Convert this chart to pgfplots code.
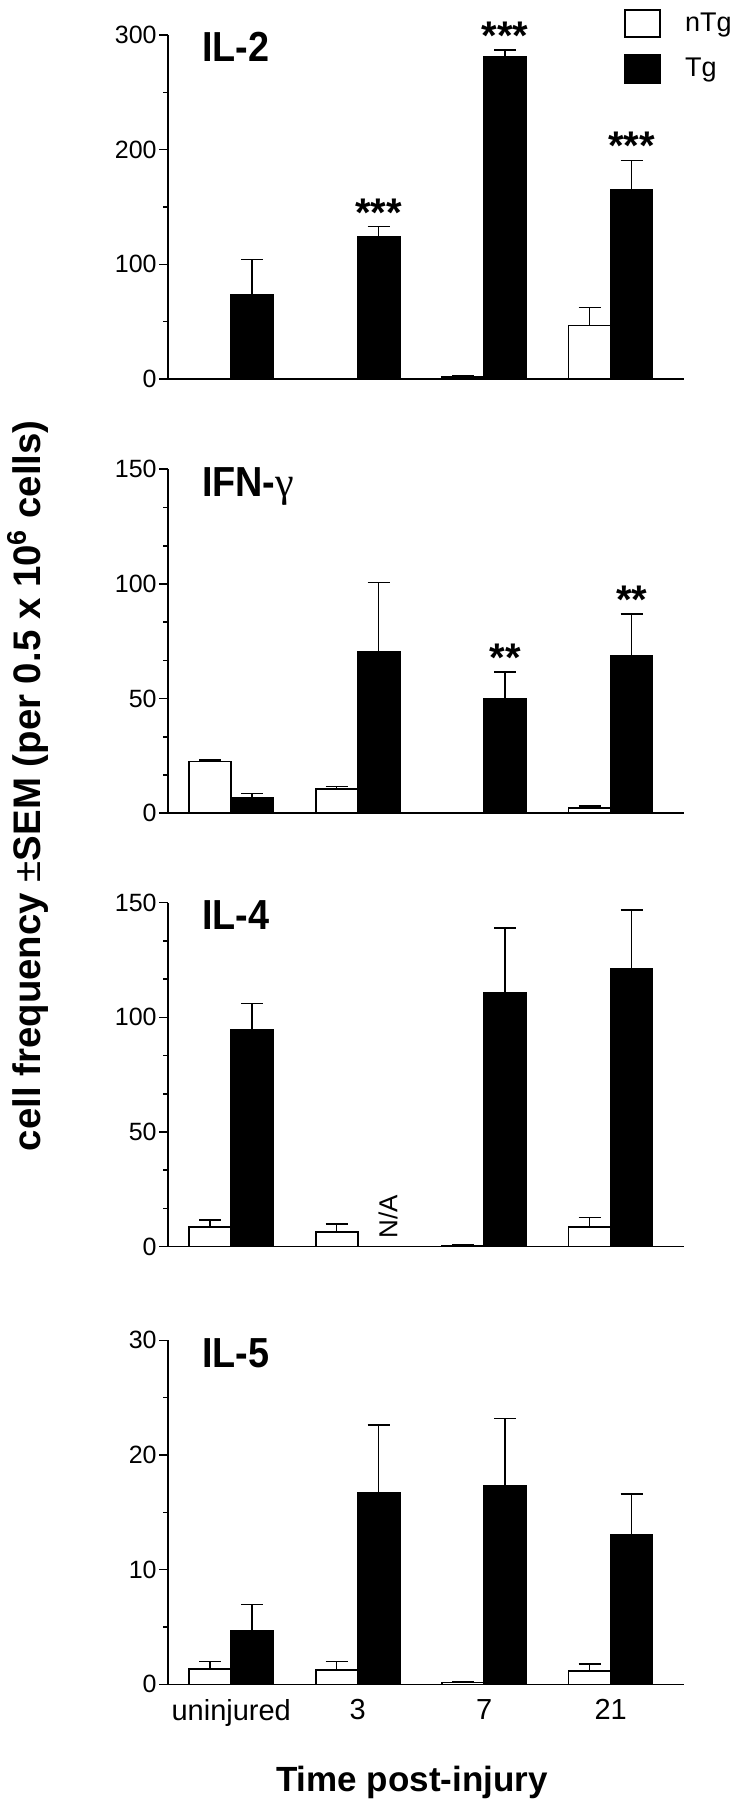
\documentclass[border=0pt]{standalone}
\usepackage{fontspec}
\setmainfont{Liberation Sans}
\newfontfamily\titlefont{Liberation Sans}[FakeStretch=0.9]
\newfontfamily\greekfont{Liberation Serif}
\usepackage{pgfplots}
\pgfplotsset{compat=1.18}

\pgfplotsset{
 panel/.style={
  scale only axis, width=258pt, height=172pt,
  xmin=-0.5, xmax=3.58, ymin=0,
  enlargelimits=false, clip=false,
  axis x line*=bottom, axis y line*=left,
  axis line style={line width=0.8pt, black},
  xtick={0,1,2,3}, xticklabels={},
  major x tick style={draw=none},
  tick align=outside,
  major tick length=4.5pt, minor tick length=2.5pt,
  ytick style={line width=0.8pt, black},
  /pgf/number format/assume math mode=true,
  yticklabel style={font=\fontsize{12.5}{14}\selectfont, inner sep=1pt},
  xticklabel style={font=\fontsize{14.5}{16}\selectfont, yshift=0.5pt},
  anchor=south west,
 },
 ebar/.style={
  /pgfplots/error bars/y dir=plus,
  /pgfplots/error bars/y explicit,
  /pgfplots/error bars/error bar style={line width=0.75pt, black},
  /pgfplots/error bars/error mark options={rotate=90, line width=0.75pt, mark size=5.5pt, black},
 },
 nbar/.style={ybar, bar width=21pt, bar shift=0pt, fill=white, draw=black, line width=0.8pt, ebar},
 tbar/.style={ybar, bar width=21pt, bar shift=0pt, fill=black, draw=black, line width=0.8pt, ebar},
 boxlegend/.style={legend image code/.code={\draw[##1, line width=1.25pt] (0pt,-6.75pt) rectangle (17.5pt,6.75pt);}},
}
\tikzset{
 ptitle/.style={anchor=base west, xshift=13.5pt, yshift=-13.5pt, font={\titlefont\bfseries\fontsize{21}{24}\selectfont}},
 pstars/.style={anchor=base, yshift=0.2pt, font={\bfseries\fontsize{20}{22}\selectfont}},
}

\begin{document}
\begin{tikzpicture}
\useasboundingbox (0,0) rectangle (367pt,900pt);

% IL-2  (nTg at x-0.166, Tg at x+0.166)
\begin{axis}[panel, at={(84pt,710.5pt)}, ymax=300, ytick={0,100,200,300}, minor y tick num=1,
  legend style={draw=none, fill=none, inner sep=0pt, at={(0.882,1.078)}, anchor=north west,
    font=\fontsize{13.5}{15}\selectfont, row sep=8pt,
    /tikz/every odd column/.append style={column sep=12pt}, nodes={inner sep=0pt}},
  legend cell align=left]
\addplot[nbar, boxlegend] coordinates {(1.834,1.5) +- (0,1) (2.834,46.6) +- (0,15.8)};
\addlegendentry{nTg}
\addplot[tbar, boxlegend] coordinates {(0.166,73.5) +- (0,30.5) (1.166,123.9) +- (0,9.1) (2.166,281) +- (0,6) (3.166,165) +- (0,25.7)};
\addlegendentry{Tg}
\node[ptitle] at (rel axis cs:0,1) {IL-2};
\node[pstars] at (axis cs:1.166,133) {***};
\node[pstars] at (axis cs:2.166,287) {***};
\node[pstars] at (axis cs:3.166,190.7) {***};
\end{axis}

% IFN-gamma
\begin{axis}[panel, at={(84pt,493.35pt)}, ymax=150, ytick={0,50,100,150}, minor y tick num=2]
\addplot[nbar] coordinates {(-0.166,22.6) +- (0,0.7) (0.834,10.5) +- (0,1.1) (2.834,2.2) +- (0,1.0)};
\addplot[tbar] coordinates {(0.166,6.6) +- (0,2.1) (1.166,70.4) +- (0,30.2) (2.166,49.8) +- (0,11.9) (3.166,68.5) +- (0,18.5)};
\node[ptitle] at (rel axis cs:0,1) {IFN-{\greekfont\mdseries γ}};
\node[pstars] at (axis cs:2.166,61.7) {**};
\node[pstars] at (axis cs:3.166,87) {**};
\end{axis}

% IL-4
\begin{axis}[panel, at={(84pt,276.65pt)}, ymax=150, ytick={0,50,100,150}, minor y tick num=2]
\addplot[nbar] coordinates {(-0.166,8.7) +- (0,2.9) (0.834,6.3) +- (0,3.6) (1.834,0.5) +- (0,0.2) (2.834,8.5) +- (0,4.3)};
\addplot[tbar] coordinates {(0.166,94.4) +- (0,11.6) (2.166,110.7) +- (0,28.3) (3.166,121.2) +- (0,25.6)};
\node[ptitle] at (rel axis cs:0,1) {IL-4};
\node[rotate=90, anchor=west, font=\fontsize{13}{14}\selectfont] at (axis cs:1.24,0.5) {N/A};
\end{axis}

% IL-5
\begin{axis}[panel, at={(84pt,57.85pt)}, ymax=30, ytick={0,10,20,30}, minor y tick num=1,
  xticklabels={uninjured,3,7,21}]
\addplot[nbar] coordinates {(-0.166,1.35) +- (0,0.65) (0.834,1.24) +- (0,0.76) (1.834,0.15) +- (0,0.1) (2.834,1.18) +- (0,0.58)};
\addplot[tbar] coordinates {(0.166,4.65) +- (0,2.29) (1.166,16.7) +- (0,5.9) (2.166,17.3) +- (0,5.9) (3.166,13.0) +- (0,3.6)};
\node[ptitle] at (rel axis cs:0,1) {IL-5};
\end{axis}

\node[rotate=90, anchor=east, inner sep=0pt, font={\bfseries\fontsize{19.2}{22}\selectfont}] at (14pt,690pt)
  {cell frequency {\mdseries ±}SEM (per 0.5 x 10\textsuperscript{6} cells)};
\node[anchor=base, font={\bfseries\fontsize{17.5}{20}\selectfont}] at (206pt,4.5pt) {Time post-injury};
\end{tikzpicture}
\end{document}
